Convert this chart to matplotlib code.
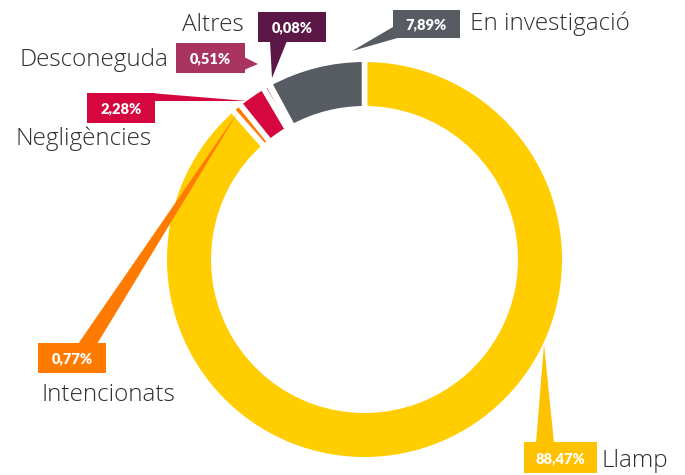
import matplotlib.pyplot as plt
from matplotlib.patches import Rectangle, Polygon, Circle

W_PX, H_PX = 685, 475

# data
categories = ['Llamp', 'Intencionats', 'Negligències', 'Desconeguda', 'Altres', 'En investigació']
values = [88.47, 0.77, 2.28, 0.51, 0.08, 7.89]
ring_colors = ['#FFCD00', '#FF7A00', '#D6063F', '#A8345F', '#5B1847', '#575B62']
box_colors = ['#FFC200', '#FF7A00', '#D6063F', '#A8345F', '#5B1847', '#575B62']
pct_labels = ['{:.2f}%'.format(v).replace('.', ',') for v in values]

# layout in image pixels (x right, y down)
boxes = {
    'Llamp': (524, 442, 597, 473),
    'Intencionats': (38, 343, 106, 373),
    'Negligències': (87, 93, 155, 123),
    'Desconeguda': (176, 43, 245, 73),
    'Altres': (258, 12, 326, 42),
    'En investigació': (393, 10, 460, 38),
}
pointers = {
    'Llamp': [(536, 443), (554, 443), (544, 344)],
    'Intencionats': [(78, 344), (97, 344), (238, 112)],
    'Negligències': [(150, 93), (150, 101), (247, 101)],
    'Desconeguda': [(244, 57), (244, 70), (258, 64)],
    'Altres': [(270, 41), (287, 41), (272, 78)],
    'En investigació': [(393, 27), (401, 37), (352, 51)],
}
label_pos = {
    'Llamp': (602, 467),
    'Intencionats': (42, 401),
    'Negligències': (15, 145),
    'Desconeguda': (20, 66),
    'Altres': (182, 31),
    'En investigació': (470, 30),
}

cx, cy = 364.5, 259.5
r_out, thick = 197.5, 44
lw = 4


def px(x, y):
    return x, H_PX - y


fig = plt.figure(figsize=(W_PX / 100, H_PX / 100), dpi=100)
ax = fig.add_axes([0, 0, 1, 1])

gap = lw * 100 / 72
ax.pie(values, colors=ring_colors, startangle=90, counterclock=False,
       radius=r_out + gap / 2, center=px(cx, cy),
       wedgeprops=dict(width=thick + gap, edgecolor='white', linewidth=lw))

# faint halo around ring edges
for r in (r_out + 3, r_out - thick - 3):
    ax.add_patch(Circle(px(cx, cy), r, fill=False, ec='#f2f2f2', lw=1, zorder=0.5))

for i, cat in enumerate(categories):
    tri = [px(x, y) for x, y in pointers[cat]]
    ax.add_patch(Polygon(tri, closed=True, fc=box_colors[i], ec='none', zorder=5))
    x0, y0, x1, y1 = boxes[cat]
    ax.add_patch(Rectangle(px(x0, y1), x1 - x0, y1 - y0, fc=box_colors[i], ec='none', zorder=6))
    ax.text(*px((x0 + x1) / 2, (y0 + y1) / 2 + 1), pct_labels[i], color='white',
            fontsize=10.5, fontweight='heavy', family='Lato', ha='center', va='center', zorder=7)
    lx, ly = label_pos[cat]
    ax.text(*px(lx, ly), cat, color='#2e2e33', fontsize=17.5, family='Open Sans',
            fontweight='light', ha='left', va='baseline', zorder=7)

ax.set_xlim(0, W_PX)
ax.set_ylim(0, H_PX)
ax.set_aspect('equal')
ax.axis('off')

fig.savefig('out.png', dpi=100)
